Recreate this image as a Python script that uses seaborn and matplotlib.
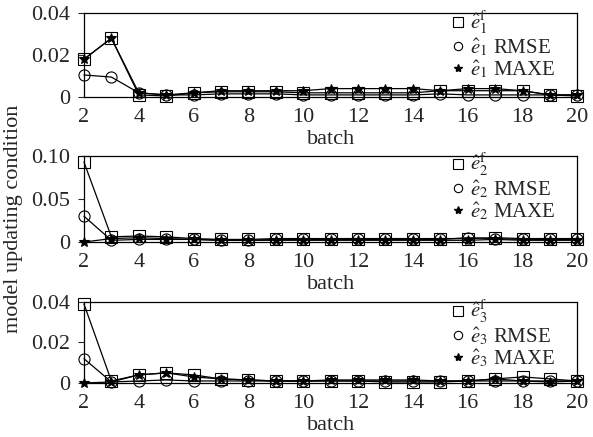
import pandas as pd
import matplotlib.pyplot as plt
import seaborn as sns
from matplotlib.lines import Line2D

batch = list(range(2, 21))

# panel 1
e1_f    = [0.018, 0.028, 0.001, 0.0005, 0.002, 0.0025, 0.0025, 0.0025, 0.002, 0.002, 0.002, 0.002, 0.002, 0.003, 0.003, 0.003, 0.003, 0.001, 0.0005]
e1_rmse = [0.0105, 0.0095, 0.002, 0.001, 0.001, 0.0015, 0.0015, 0.0015, 0.001, 0.001, 0.001, 0.001, 0.001, 0.0015, 0.001, 0.001, 0.001, 0.001, 0.001]
e1_maxe = [0.018, 0.028, 0.002, 0.001, 0.002, 0.003, 0.003, 0.003, 0.003, 0.004, 0.004, 0.004, 0.004, 0.003, 0.004, 0.004, 0.003, 0.001, 0.001]

# panel 2
e2_f    = [0.093, 0.006, 0.007, 0.006, 0.004, 0.003, 0.003, 0.004, 0.004, 0.004, 0.004, 0.004, 0.004, 0.004, 0.004, 0.005, 0.004, 0.004, 0.004]
e2_rmse = [0.030, 0.002, 0.003, 0.003, 0.003, 0.002, 0.002, 0.003, 0.003, 0.003, 0.003, 0.003, 0.003, 0.003, 0.005, 0.004, 0.003, 0.003, 0.003]
e2_maxe = [0.0, 0.004, 0.005, 0.004, 0.003, 0.002, 0.002, 0.002, 0.002, 0.002, 0.002, 0.002, 0.002, 0.002, 0.002, 0.003, 0.002, 0.002, 0.002]

# panel 3
e3_f    = [0.039, 0.001, 0.004, 0.005, 0.004, 0.002, 0.0015, 0.001, 0.001, 0.001, 0.001, 0.0005, 0.0005, 0.0005, 0.001, 0.002, 0.003, 0.002, 0.001]
e3_rmse = [0.012, 0.0005, 0.001, 0.0015, 0.001, 0.001, 0.001, 0.001, 0.001, 0.001, 0.001, 0.001, 0.001, 0.001, 0.001, 0.001, 0.001, 0.001, 0.001]
e3_maxe = [0.0, 0.0005, 0.004, 0.005, 0.003, 0.002, 0.0015, 0.001, 0.001, 0.0015, 0.0015, 0.0015, 0.0015, 0.001, 0.001, 0.002, 0.001, 0.0005, 0.001]

panels = [
    (1, e1_f, e1_rmse, e1_maxe, 0.04, [0, 0.02, 0.04], ['0', '0.02', '0.04']),
    (2, e2_f, e2_rmse, e2_maxe, 0.10, [0, 0.05, 0.10], ['0', '0.05', '0.10']),
    (3, e3_f, e3_rmse, e3_maxe, 0.04, [0, 0.02, 0.04], ['0', '0.02', '0.04']),
]

sns.set_style('white')
plt.rcParams['font.family'] = ['Liberation Serif', 'DejaVu Serif']
plt.rcParams['mathtext.fontset'] = 'stix'

fig = plt.figure(figsize=(5.93, 4.37), dpi=100)
positions = [
    [0.1416, 0.7780, 0.832, 0.1922],
    [0.1416, 0.4462, 0.832, 0.1968],
    [0.1416, 0.1236, 0.832, 0.1854],
]

styles = [('s', 8, 'none'), ('o', 8, 'none'), ('*', 7, 'black')]

for pos, (k, ef, rmse, maxe, ymax, yt, ytl) in zip(positions, panels):
    ax = fig.add_axes(pos)
    for vals, (m, ms, fc) in zip([ef, rmse, maxe], styles):
        df = pd.DataFrame({'batch': batch, 'value': vals})
        sns.lineplot(data=df, x='batch', y='value', ax=ax, color='black', lw=0.9,
                     marker=m, markersize=ms, markerfacecolor=fc,
                     markeredgecolor='black', markeredgewidth=0.8, clip_on=False)
    ax.set_xlim(2, 20)
    ax.set_ylim(0, ymax)
    ax.set_xticks(range(2, 21, 2))
    ax.set_yticks(yt)
    ax.set_yticklabels(ytl)
    ax.set_xlabel('batch', fontsize=16, labelpad=2)
    ax.set_ylabel('')
    ax.tick_params(axis='y', direction='out', length=4, width=0.8, labelsize=16, pad=6, left=True)
    ax.tick_params(axis='x', length=0, labelsize=16, pad=8)
    for s in ax.spines.values():
        s.set_color('black')
        s.set_linewidth(0.9)
    handles = [
        Line2D([], [], ls='none', marker='s', ms=7, mfc='none', mec='black', mew=0.8),
        Line2D([], [], ls='none', marker='o', ms=6, mfc='none', mec='black', mew=0.8),
        Line2D([], [], ls='none', marker='*', ms=6, mfc='black', mec='black'),
    ]
    labels = [r'$\hat{e}_%d^{\mathrm{f}}$' % k,
              r'$\hat{e}_%d$ RMSE' % k,
              r'$\hat{e}_%d$ MAXE' % k]
    ax.legend(handles, labels, loc='upper right', bbox_to_anchor=(0.98, 1.2),
              frameon=False, fontsize=15, handlelength=0.6, handletextpad=0.25,
              labelspacing=0.0, borderpad=0.1)

fig.text(0.022, 0.5, 'model updating condition', rotation=90, va='center', ha='center', fontsize=16)

plt.savefig('out.png', dpi=100)
